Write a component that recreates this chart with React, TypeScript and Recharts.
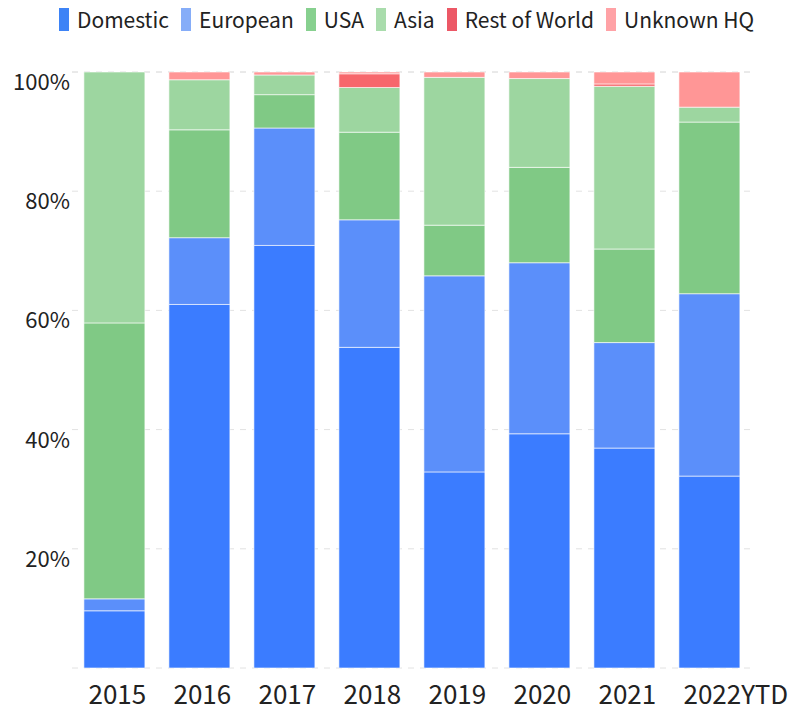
import { BarChart, Bar, XAxis, YAxis, CartesianGrid } from 'recharts';

const years = ['2015', '2016', '2017', '2018', '2019', '2020', '2021', '2022YTD'];

const domestic = [9.6, 61.0, 70.9, 53.8, 32.9, 39.3, 36.9, 32.2];
const european = [2.0, 11.2, 19.7, 21.4, 32.9, 28.7, 17.7, 30.6];
const usa = [46.3, 18.1, 5.6, 14.7, 8.5, 16.0, 15.7, 28.8];
const asia = [42.1, 8.4, 3.3, 7.5, 24.8, 14.9, 27.3, 2.5];
const restOfWorld = [0, 0, 0, 2.3, 0, 0, 0.4, 0];
const unknownHq = [0, 1.3, 0.5, 0.3, 0.9, 1.1, 2.0, 5.9];

const yTicks = [0, 20, 40, 60, 80, 100];

const series = [
  { key: 'domestic', name: 'Domestic', values: domestic, fill: '#3b7cff', legend: '#3d83f6' },
  { key: 'european', name: 'European', values: european, fill: '#5b8ffa', legend: '#86adf8' },
  { key: 'usa', name: 'USA', values: usa, fill: '#80c985', legend: '#87d08f' },
  { key: 'asia', name: 'Asia', values: asia, fill: '#9dd6a0', legend: '#a9dcac' },
  { key: 'row', name: 'Rest of World', values: restOfWorld, fill: '#f7676c', legend: '#ec5866' },
  { key: 'unknown', name: 'Unknown HQ', values: unknownHq, fill: '#ff9696', legend: '#ffa2a6' },
];

const data = years.map((year, i) => {
  const row: Record<string, any> = { year };
  series.forEach(s => {
    row[s.key] = s.values[i];
  });
  return row;
});

const FONT = '"Noto Sans CJK SC", "Noto Sans", sans-serif';

const YTick = ({ x, y, payload }: any) => {
  if (payload.value === 0) return null;
  return (
    <text x={x} y={y} dy={18} textAnchor="end" fontSize={22} fill="#222" fontFamily={FONT}>
      {payload.value}%
    </text>
  );
};

const XTick = ({ x, y, payload }: any) => (
  <text x={x - 26} y={y} dy={36} textAnchor="start" fontSize={26} fill="#222" fontFamily={FONT}>
    {payload.value}
  </text>
);

export default function App() {
  return (
    <div style={{ position: 'absolute', left: 0, top: 0, width: 788, height: 710, background: '#fff', fontFamily: FONT }}>
      <div style={{ position: 'absolute', left: 59, top: 8, height: 23, display: 'flex', alignItems: 'center' }}>
        {series.map(s => (
          <div key={s.key} style={{ display: 'flex', alignItems: 'center', marginRight: 12 }}>
            <div style={{ width: 10, height: 23, background: s.legend, marginRight: 8 }} />
            <span style={{ fontSize: 21, color: '#222', lineHeight: '23px', whiteSpace: 'nowrap' }}>{s.name}</span>
          </div>
        ))}
      </div>
      <BarChart
        width={788}
        height={710}
        data={data}
        margin={{ top: 72, right: 36, bottom: 12, left: 0 }}
        barCategoryGap="14%"
      >
        <CartesianGrid vertical={false} stroke="#e2e2e2" strokeDasharray="6 6" />
        <XAxis
          dataKey="year"
          axisLine={false}
          tickLine={false}
          tickSize={0}
          tickMargin={0}
          height={30}
          interval={0}
          tick={<XTick />}
        />
        <YAxis
          width={72}
          domain={[0, 100]}
          ticks={yTicks}
          axisLine={false}
          tickLine={false}
          tickSize={0}
          tickMargin={2}
          tick={<YTick />}
        />
        {series.map(s => (
          <Bar
            key={s.key}
            dataKey={s.key}
            name={s.name}
            stackId="a"
            fill={s.fill}
            stroke="rgba(255,255,255,0.6)"
            strokeWidth={1}
            isAnimationActive={false}
          />
        ))}
      </BarChart>
    </div>
  );
}
